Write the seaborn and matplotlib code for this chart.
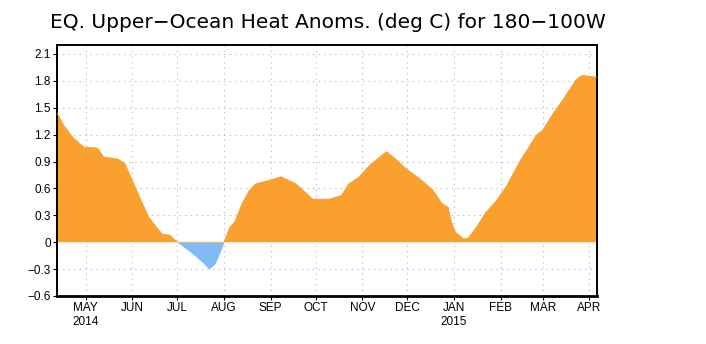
import numpy as np
import pandas as pd
import matplotlib
matplotlib.use("Agg")
import matplotlib.pyplot as plt
import matplotlib.dates as mdates
import seaborn as sns

# ---- data ----
dates = ["2014-04-12", "2014-04-17", "2014-04-23", "2014-04-30", "2014-05-09",
         "2014-05-13", "2014-05-22", "2014-05-27", "2014-05-31", "2014-06-06",
         "2014-06-12", "2014-06-17", "2014-06-21", "2014-06-26", "2014-07-01",
         "2014-07-09", "2014-07-14", "2014-07-18", "2014-07-22", "2014-07-26",
         "2014-07-29", "2014-08-01", "2014-08-05", "2014-08-08", "2014-08-13",
         "2014-08-18", "2014-08-22", "2014-08-31", "2014-09-08", "2014-09-18",
         "2014-09-29", "2014-10-10", "2014-10-18", "2014-10-23", "2014-10-30",
         "2014-11-06", "2014-11-17", "2014-11-23", "2014-11-30", "2014-12-09",
         "2014-12-18", "2014-12-24", "2014-12-28", "2014-12-30", "2015-01-02",
         "2015-01-07", "2015-01-10", "2015-01-16", "2015-01-22", "2015-01-29",
         "2015-02-05", "2015-02-14", "2015-02-25", "2015-03-01", "2015-03-08",
         "2015-03-14", "2015-03-23", "2015-03-26", "2015-03-28", "2015-04-06"]
anomaly = [1.44, 1.29, 1.16, 1.06, 1.05,
           0.95, 0.93, 0.88, 0.73, 0.50,
           0.28, 0.17, 0.09, 0.08, 0.00,
           -0.10, -0.17, -0.23, -0.30, -0.24,
           -0.13, 0.00, 0.17, 0.22, 0.43,
           0.58, 0.65, 0.69, 0.73, 0.65,
           0.48, 0.48, 0.52, 0.65, 0.73,
           0.86, 1.01, 0.93, 0.82, 0.71,
           0.58, 0.43, 0.39, 0.24, 0.11,
           0.04, 0.04, 0.17, 0.33, 0.46,
           0.63, 0.91, 1.20, 1.25, 1.44,
           1.58, 1.81, 1.85, 1.86, 1.84]

month_ticks = ["2014-05-01", "2014-06-01", "2014-07-01", "2014-08-01", "2014-09-01",
               "2014-10-01", "2014-11-01", "2014-12-01", "2015-01-01", "2015-02-01",
               "2015-03-01", "2015-04-01"]
month_labels = ["MAY\n2014", "JUN", "JUL", "AUG", "SEP", "OCT", "NOV", "DEC",
                "JAN\n2015", "FEB", "MAR", "APR"]
y_ticks = [-0.6, -0.3, 0, 0.3, 0.6, 0.9, 1.2, 1.5, 1.8, 2.1]
y_labels = ["\u22120.6", "\u22120.3", "0", "0.3", "0.6", "0.9", "1.2", "1.5", "1.8", "2.1"]
title = "EQ. Upper\u2212Ocean Heat Anoms. (deg C) for 180\u2212100W"

ORANGE = "#F9A02F"
BLUE = "#80BBF6"

sns.set_theme(style="white")
plt.rcParams["font.family"] = ["DejaVu Sans"]

df = pd.DataFrame({"date": pd.to_datetime(dates), "anom": anomaly})
x = mdates.date2num(df["date"])
v = df["anom"].to_numpy()

fig = plt.figure(figsize=(7.06, 3.44), dpi=100)
ax = fig.add_axes([57 / 706, 1 - 296 / 344, (597 - 57) / 706, (296 - 45) / 344])

ax.fill_between(x, 0, v, where=v >= 0, interpolate=True, color=ORANGE, lw=0, zorder=2)
ax.fill_between(x, 0, v, where=v <= 0, interpolate=True, color=BLUE, lw=0, zorder=2)
pos = df.assign(anom=np.where(v >= 0, v, np.nan))
sns.lineplot(data=pos, x="date", y="anom", color=ORANGE, lw=0.6, ax=ax, zorder=3)

ax.set_xlim(mdates.date2num(pd.Timestamp("2014-04-12")),
            mdates.date2num(pd.Timestamp("2015-04-06")))
ax.set_ylim(-0.6, 2.2)

tick_x = mdates.date2num(pd.to_datetime(month_ticks))
ax.set_xticks(tick_x)
ax.set_xticklabels(month_labels, fontsize=8.5, family="Liberation Sans",
                   linespacing=1.15, color="black")
ax.set_yticks(y_ticks)
ax.set_yticklabels(y_labels, fontsize=8.5, family="Liberation Sans", color="black")
ax.set_xlabel("")
ax.set_ylabel("")

ax.tick_params(axis="both", which="major", direction="out", length=3, width=0.8,
               color="black", pad=1.5, bottom=True, left=True)

for yt in y_ticks:
    if yt != 0 and yt > -0.6:
        ax.axhline(yt, color="#b0b0b0", lw=0.8, ls=(0, (1, 4)), zorder=1)
for xt in tick_x:
    ax.axvline(xt, color="#b0b0b0", lw=0.8, ls=(0, (1, 4)), zorder=1)

for s in ax.spines.values():
    s.set_color("black")
    s.set_linewidth(1.4)
    s.set_visible(True)
ax.spines["bottom"].set_linewidth(2.0)

fig.text(50 / 706, 1 - 22 / 344, title, fontsize=14.5, ha="left", va="center",
         color="black")

fig.savefig("out.png", dpi=100, facecolor="white")
